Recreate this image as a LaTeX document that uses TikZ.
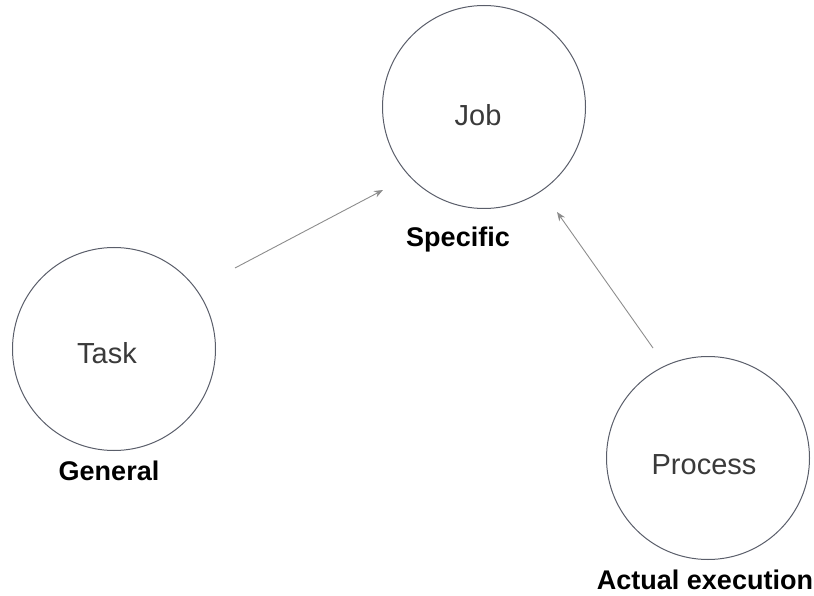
\documentclass[tikz,border=0pt]{standalone}
\usepackage{fontspec}
\setmainfont{Liberation Sans}
\usetikzlibrary{arrows.meta}
\definecolor{ringc}{HTML}{5A5E6A}
\definecolor{arrc}{HTML}{8C8C8C}
\definecolor{namec}{HTML}{3A3A3A}
\begin{document}
\begin{tikzpicture}[x=1pt,y=-1pt,
  ring/.style={circle,draw=ringc,line width=1pt,minimum size=203pt,inner sep=0pt},
  nametext/.style={text=namec,font=\fontsize{29}{32}\selectfont,inner sep=0pt},
  tagtext/.style={text=black,font=\bfseries\fontsize{27}{30}\selectfont,inner sep=0pt,anchor=base},
  link/.style={draw=arrc,line width=0.9pt,-{Stealth[length=9pt,width=7pt]}}]
\useasboundingbox (0,0) rectangle (814,596);
\node[ring] (jobc) at (484,107) {};
\node[ring] (taskc) at (114,349) {};
\node[ring] (procc) at (708,458) {};
\node[nametext] (job) at (478,115) {Job};
\node[nametext] (task) at (107,353) {Task};
\node[nametext] (proc) at (704,465) {Process};
\node[tagtext] (spec) at (458,247) {Specific};
\node[tagtext] (gen) at (109,480) {General};
\node[tagtext] (act) at (705,589) {Actual execution};
\coordinate (a1s) at (235,268);
\coordinate (a1e) at (383,190);
\coordinate (a2s) at (653,348);
\coordinate (a2e) at (557,212);
\draw[link] (a1s) -- (a1e);
\draw[link] (a2s) -- (a2e);
\end{tikzpicture}
\end{document}
